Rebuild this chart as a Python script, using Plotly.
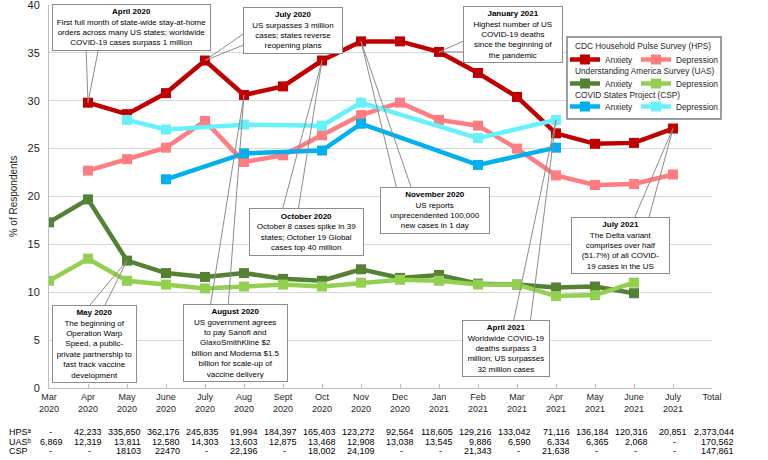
import plotly.graph_objects as go

# ---------------- data ----------------
tick_labels = ["Mar<br>2020", "Apr<br>2020", "May<br>2020", "June<br>2020", "July<br>2020", "Aug<br>2020",
               "Sept<br>2020", "Oct<br>2020", "Nov<br>2020", "Dec<br>2020", "Jan<br>2021", "Feb<br>2021",
               "Mar<br>2021", "Apr<br>2021", "May<br>2021", "June<br>2021", "July<br>2021", "Total"]
month_idx = list(range(17))

hps_anxiety = [None, 29.8, 28.6, 30.8, 34.2, 30.6, 31.5, 34.2, 36.2, 36.2, 35.1, 32.9, 30.4, 26.6, 25.5, 25.6, 27.1]
hps_depression = [None, 22.7, 23.9, 25.1, 27.9, 23.6, 24.3, 26.4, 28.5, 29.8, 28.0, 27.4, 25.0, 22.2, 21.2, 21.3, 22.3]
uas_anxiety = [17.3, 19.7, 13.3, 12.0, 11.6, 12.0, 11.4, 11.2, 12.4, 11.5, 11.8, 10.9, 10.8, 10.5, 10.6, 9.9, None]
uas_depression = [11.2, 13.5, 11.2, 10.8, 10.4, 10.6, 10.8, 10.6, 11.0, 11.3, 11.2, 10.8, 10.8, 9.6, 9.7, 11.0, None]
csp_anxiety = [None, None, None, 21.8, None, 24.5, None, 24.8, 27.6, None, None, 23.3, None, 25.1, None, None, None]
csp_depression = [None, None, 28.0, 27.0, None, 27.5, None, 27.4, 29.8, None, None, 26.1, None, 28.0, None, None, None]

survey_titles = ["CDC Household Pulse Survey (HPS)", "Understanding America Survey (UAS)", "COVID States Project (CSP)"]

table_rows = ["HPSᵃ", "UASᵇ", "CSP"]
hps_n = ["-", "42,233", "335,850", "362,176", "245,835", "91,994", "184,397", "165,403", "123,272", "92,564",
         "118,605", "129,216", "133,042", "71,116", "136,184", "120,316", "20,851", "2,373,044"]
uas_n = ["6,869", "12,319", "13,811", "12,580", "14,303", "13,603", "12,875", "13,468", "12,908", "13,038",
         "13,545", "9,886", "6,590", "6,334", "6,365", "2,068", "-", "170,562"]
csp_n = ["-", "-", "18103", "22470", "-", "22,196", "-", "18,002", "24,109", "-", "-", "21,343", "-",
         "21,638", "-", "-", "-", "147,861"]

# ---------------- styling ----------------
FONT = "Liberation Sans, Arial, sans-serif"
W, H = 768, 460
ML, MR, MT, MB = 49, 56, 5, 72
PW, PH = W - ML - MR, H - MT - MB
XPX = PW / 17.0
YPX = PH / 40.0
ANN_FS = 8.0


def dx(px):
    return (px - ML) / XPX


def dy(py):
    return (H - MB - py) / YPX


def px_(px):
    return (px - ML) / PW


def py_(py):
    return (H - MB - py) / PH


fig = go.Figure()

series = [
    ("Anxiety", hps_anxiety, "#C00000", "legend", 26),
    ("Depression", hps_depression, "#FF7C80", "legend", 48),
    ("Anxiety", uas_anxiety, "#548235", "legend2", 26),
    ("Depression", uas_depression, "#92D050", "legend2", 48),
    ("Anxiety", csp_anxiety, "#00B0F0", "legend3", 26),
    ("Depression", csp_depression, "#66F2FA", "legend3", 48),
]
for name, vals, col, lg, lw in series:
    fig.add_trace(go.Scatter(
        x=month_idx, y=vals, name=name, mode="lines+markers", connectgaps=True,
        line=dict(color=col, width=4.5),
        marker=dict(symbol="square", size=10, color=col),
        legend=lg, legendwidth=lw,
    ))

# ---------------- callouts ----------------
callouts = [
    ("<b>April 2020</b><br>First full month of state-wide stay-at-home<br>orders across many US states; worldwide<br>COVID-19 cases surpass 1 million",
     (131.5, 27), (159, 44), [(86, 46), (99, 46)], (hps_anxiety, 1)),
    ("<b>July 2020</b><br>US surpasses 3 million<br>cases; states reverse<br>reopening plans",
     (293, 30.5), (100, 43), [(246, 32), (246, 44)], (hps_anxiety, 4)),
    ("<b>January 2021</b><br>Highest number of US<br>COVID-19 deaths<br>since the beginning of<br>the pandemic",
     (513, 34), (100, 56), [(466, 40), (466, 52)], (hps_anxiety, 10)),
    ("<b>October 2020</b><br>October 8 cases spike in 39<br>states; October 19 Global<br>cases top 40 million",
     (306.5, 232), (115, 48), [(282, 211), (298, 211)], (hps_anxiety, 7)),
    ("<b>November 2020</b><br>US reports<br>unprecendented 100,000<br>new cases in 1 day",
     (435, 210), (110, 46), [(397, 190), (412, 190)], (hps_anxiety, 8)),
    ("<b>August 2020</b><br>US government agrees<br>to pay Sanofi and<br>GlaxoSmithKline $2<br>billion and Moderna $1.5<br>billion for scale-up of<br>vaccine delivery",
     (235.5, 342.5), (105, 75), [(210, 308), (228, 308)], (hps_anxiety, 5)),
    ("<b>May 2020</b><br>The beginning of<br>Operation Warp<br>Speed, a public-<br>private partnership to<br>fast track vaccine<br>development",
     (94.5, 343.5), (85, 71), [(85, 311), (102, 311)], (uas_anxiety, 2)),
    ("<b>April 2021</b><br>Worldwide COVID-19<br>deaths surpass 3<br>million; US surpasses<br>32 million cases",
     (506, 348), (88, 54), [(513, 324), (530, 324)], (csp_depression, 13)),
    ("<b>July 2021</b><br>The Delta variant<br>comprises over half<br>(51.7%) of all COVID-<br>19 cases in the US",
     (620.5, 245.5), (99, 55), [(633, 221), (648, 221)], (hps_anxiety, 16)),
]

shapes = []
annotations = []

# hide the gridline at the top edge (not shown in the original)
shapes.append(dict(type="line", xref="paper", yref="y", layer="between",
                   x0=0.002, x1=1, y0=40, y1=40, line=dict(color="white", width=2)))

for text, (cx, cy), (bw, bh), base, (ser, idx) in callouts:
    (bx1, by1), (bx2, by2) = base
    tx, ty = month_idx[idx], ser[idx]
    nlines = text.count("<br>") + 1
    hh = max(bh - 4, nlines * ANN_FS * 1.3 + 1)
    shapes.append(dict(
        type="path", xref="x", yref="y", layer="above",
        path=f"M {dx(bx1)},{dy(by1)} L {tx},{ty} L {dx(bx2)},{dy(by2)}",
        line=dict(color="#8c8c8c", width=1),
    ))
    annotations.append(dict(
        text=text, x=dx(cx), y=dy(cy), xref="x", yref="y", xanchor="center", yanchor="middle",
        showarrow=False, align="center", width=bw - 4, height=hh, borderpad=1,
        bgcolor="white", bordercolor="#8c8c8c", borderwidth=1,
        font=dict(family=FONT, size=ANN_FS, color="#000000"),
    ))

# legend frame and survey titles
shapes.append(dict(type="rect", xref="paper", yref="paper", layer="above",
                   x0=px_(567), x1=px_(721), y0=py_(119), y1=py_(37),
                   fillcolor="white", line=dict(color="#7f7f7f", width=1.5)))
for t, yy in zip(survey_titles, [46, 71, 95]):
    annotations.append(dict(text=t, x=px_(573), y=py_(yy), xref="paper", yref="paper",
                            xanchor="left", yanchor="middle", showarrow=False,
                            font=dict(family=FONT, size=8.3, color="#262626")))

# ---------------- table ----------------
row_y = [432, 442, 451]
for r, (lab, vals) in enumerate(zip(table_rows, [hps_n, uas_n, csp_n])):
    annotations.append(dict(text=lab, x=px_(7), y=py_(row_y[r]), xref="paper", yref="paper",
                            xanchor="left", yanchor="middle", showarrow=False,
                            font=dict(family=FONT, size=9, color="#000000")))
    for i, v in enumerate(vals):
        if i == 17:
            # the Total column lies past the last axis category -> paper coordinates
            annotations.append(dict(text=v, x=px_(736), y=py_(row_y[r]), xref="paper", yref="paper",
                                    xanchor="right", yanchor="middle", showarrow=False,
                                    font=dict(family=FONT, size=9, color="#000000")))
            continue
        if v == "-":
            xv, anc = i + 0.05, "center"
        else:
            xv, anc = i + 0.41, "right"
        annotations.append(dict(text=v, x=xv, y=py_(row_y[r]), xref="x", yref="paper",
                                xanchor=anc, yanchor="middle", showarrow=False,
                                font=dict(family=FONT, size=9, color="#000000")))

legend_common = dict(orientation="h", xanchor="left", yanchor="top", bgcolor="rgba(0,0,0,0)",
                     borderwidth=0, entrywidthmode="pixels",
                     font=dict(family=FONT, size=8.3, color="#262626"), itemwidth=30,
                     tracegroupgap=0)

fig.update_layout(
    width=W, height=H,
    margin=dict(l=ML, r=MR, t=MT, b=MB, pad=0, autoexpand=False),
    paper_bgcolor="white", plot_bgcolor="white",
    font=dict(family=FONT, color="#262626"),
    showlegend=True,
    legend=dict(**legend_common, x=px_(565), y=py_(45)),
    legend2=dict(**legend_common, x=px_(565), y=py_(69)),
    legend3=dict(**legend_common, x=px_(565), y=py_(92)),
    xaxis=dict(range=[0, 17], tickmode="array", tickvals=list(range(18)), ticktext=tick_labels,
               showgrid=False, zeroline=False, showline=True, linecolor="#bfbfbf", linewidth=1,
               ticks="inside", ticklen=4, tickcolor="#bfbfbf", automargin=False,
               ticklabeloverflow="allow",
               tickfont=dict(family=FONT, size=9, color="#262626")),
    yaxis=dict(range=[0, 40], tickmode="array", tickvals=list(range(0, 41, 5)),
               showgrid=True, gridcolor="#d9d9d9", gridwidth=1, zeroline=False,
               showline=True, linecolor="#bfbfbf", linewidth=1, ticks="", ticklabelstandoff=6,
               automargin=False, ticklabeloverflow="allow",
               tickfont=dict(family=FONT, size=11, color="#262626"),
               title=dict(text="% of Respondents", standoff=8,
                          font=dict(family=FONT, size=10, color="#262626"))),
    shapes=shapes,
    annotations=annotations,
)

fig.write_html("out.html", config={"displayModeBar": False},
               post_script="document.body.style.margin='0px';")
